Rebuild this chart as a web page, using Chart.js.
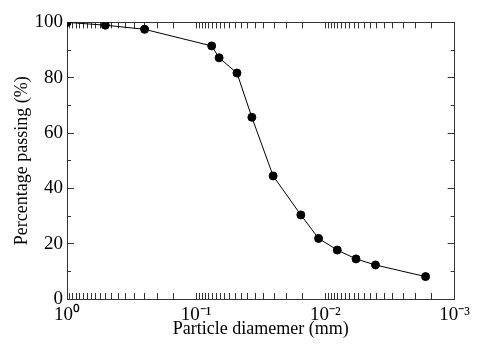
<!DOCTYPE html>
<html>
<head>
<meta charset="utf-8">
<script src="https://cdn.jsdelivr.net/npm/chart.js@4.4.1/dist/chart.umd.min.js"></script>
<style>
  html, body { margin: 0; padding: 0; background: #fff; }
  #wrap { width: 481px; height: 345px; }
</style>
</head>
<body>
<div id="wrap"><canvas id="chart"></canvas></div>
<script>
  // ── Data ──────────────────────────────────────────────────────────────────
  const diameters = [1, 0.505, 0.251, 0.0759, 0.0665, 0.0484, 0.0371, 0.0254, 0.0155, 0.0113, 0.0081, 0.0058, 0.0041, 0.00168];
  const passing   = [100, 99.0, 97.5, 91.5, 87.2, 81.7, 65.7, 44.5, 30.4, 21.9, 17.7, 14.5, 12.3, 8.1];

  // decade ticks + their labels, and the minor tick multipliers inside each decade
  const decades = [1, 0.1, 0.01, 0.001];
  const decadeLabels = ["10⁰", "10⁻¹", "10⁻²", "10⁻³"];
  const minorSteps = [0.15, 0.2, 0.25, 0.3, 0.35, 0.4, 0.45, 0.5, 0.55, 0.6, 0.65, 0.7, 0.75, 0.8, 0.85, 0.9, 0.95];

  const FONT = "'Liberation Serif', 'Times New Roman', serif";
  const AXIS = "#333";

  const xTicks = [];
  decades.forEach((d, i) => {
    xTicks.push(d);
    if (i < decades.length - 1) minorSteps.forEach(m => xTicks.push(d * m));
  });

  function decadeLabel(v) {
    const i = decades.findIndex(d => Math.abs(Math.log10(v) - Math.log10(d)) < 1e-6);
    return i >= 0 ? decadeLabels[i] : "";
  }

  const logX = (pos, extra) => Object.assign({
    type: "logarithmic", position: pos, reverse: true, min: 0.001, max: 1,
    afterBuildTicks: s => { s.ticks = xTicks.map(v => ({ value: v })); },
    grid: { drawOnChartArea: false, tickLength: -6, tickColor: AXIS, tickWidth: 1 },
    border: { color: AXIS, width: 1 }
  }, extra);

  const linY = (pos, step, len, extra) => Object.assign({
    type: "linear", position: pos, min: 0, max: 100,
    ticks: { stepSize: step, display: false },
    grid: { drawOnChartArea: false, tickLength: len, tickColor: AXIS, tickWidth: 1 },
    border: { color: AXIS, width: 1 }
  }, extra);

  new Chart(document.getElementById("chart"), {
    type: "scatter",
    data: {
      datasets: [{
        data: diameters.map((d, i) => ({ x: d, y: passing[i] })),
        showLine: true,
        borderColor: "#000", borderWidth: 1,
        backgroundColor: "#000", pointRadius: 4, pointHoverRadius: 4,
        xAxisID: "x", yAxisID: "y"
      }]
    },
    options: {
      responsive: true, maintainAspectRatio: false, animation: false,
      layout: { padding: 0 },
      plugins: { legend: { display: false }, tooltip: { enabled: false } },
      scales: {
        x: logX("bottom", {
          ticks: {
            autoSkip: false, maxRotation: 0, padding: 11, color: "#000",
            font: { family: FONT, size: 19 },
            callback: v => decadeLabel(v)
          },
          title: { display: true, text: "Particle diamemer (mm)", color: "#000",
                   font: { family: FONT, size: 18 }, padding: { top: 0, bottom: 5 } },
          afterFit: s => { s.height = 46; }
        }),
        x2: logX("top", {
          ticks: { display: false },
          afterFit: s => { s.height = 20; }
        }),
        y: linY("left", 20, -7, {
          weight: 2,
          ticks: { stepSize: 20, padding: 11, color: "#000", font: { family: FONT, size: 19 } },
          title: { display: true, text: "Percentage passing (%)", color: "#000",
                   font: { family: FONT, size: 18 }, padding: { top: 11, bottom: 0 } },
          afterFit: s => { s.width = 67; }
        }),
        yMinor: linY("left", 10, -4, { weight: 1, afterFit: s => { s.width = 0; } }),
        y2: linY("right", 20, -7, { weight: 2, afterFit: s => { s.width = 24; } }),
        y2Minor: linY("right", 10, -4, { weight: 1, afterFit: s => { s.width = 0; } })
      }
    }
  });
</script>
</body>
</html>
